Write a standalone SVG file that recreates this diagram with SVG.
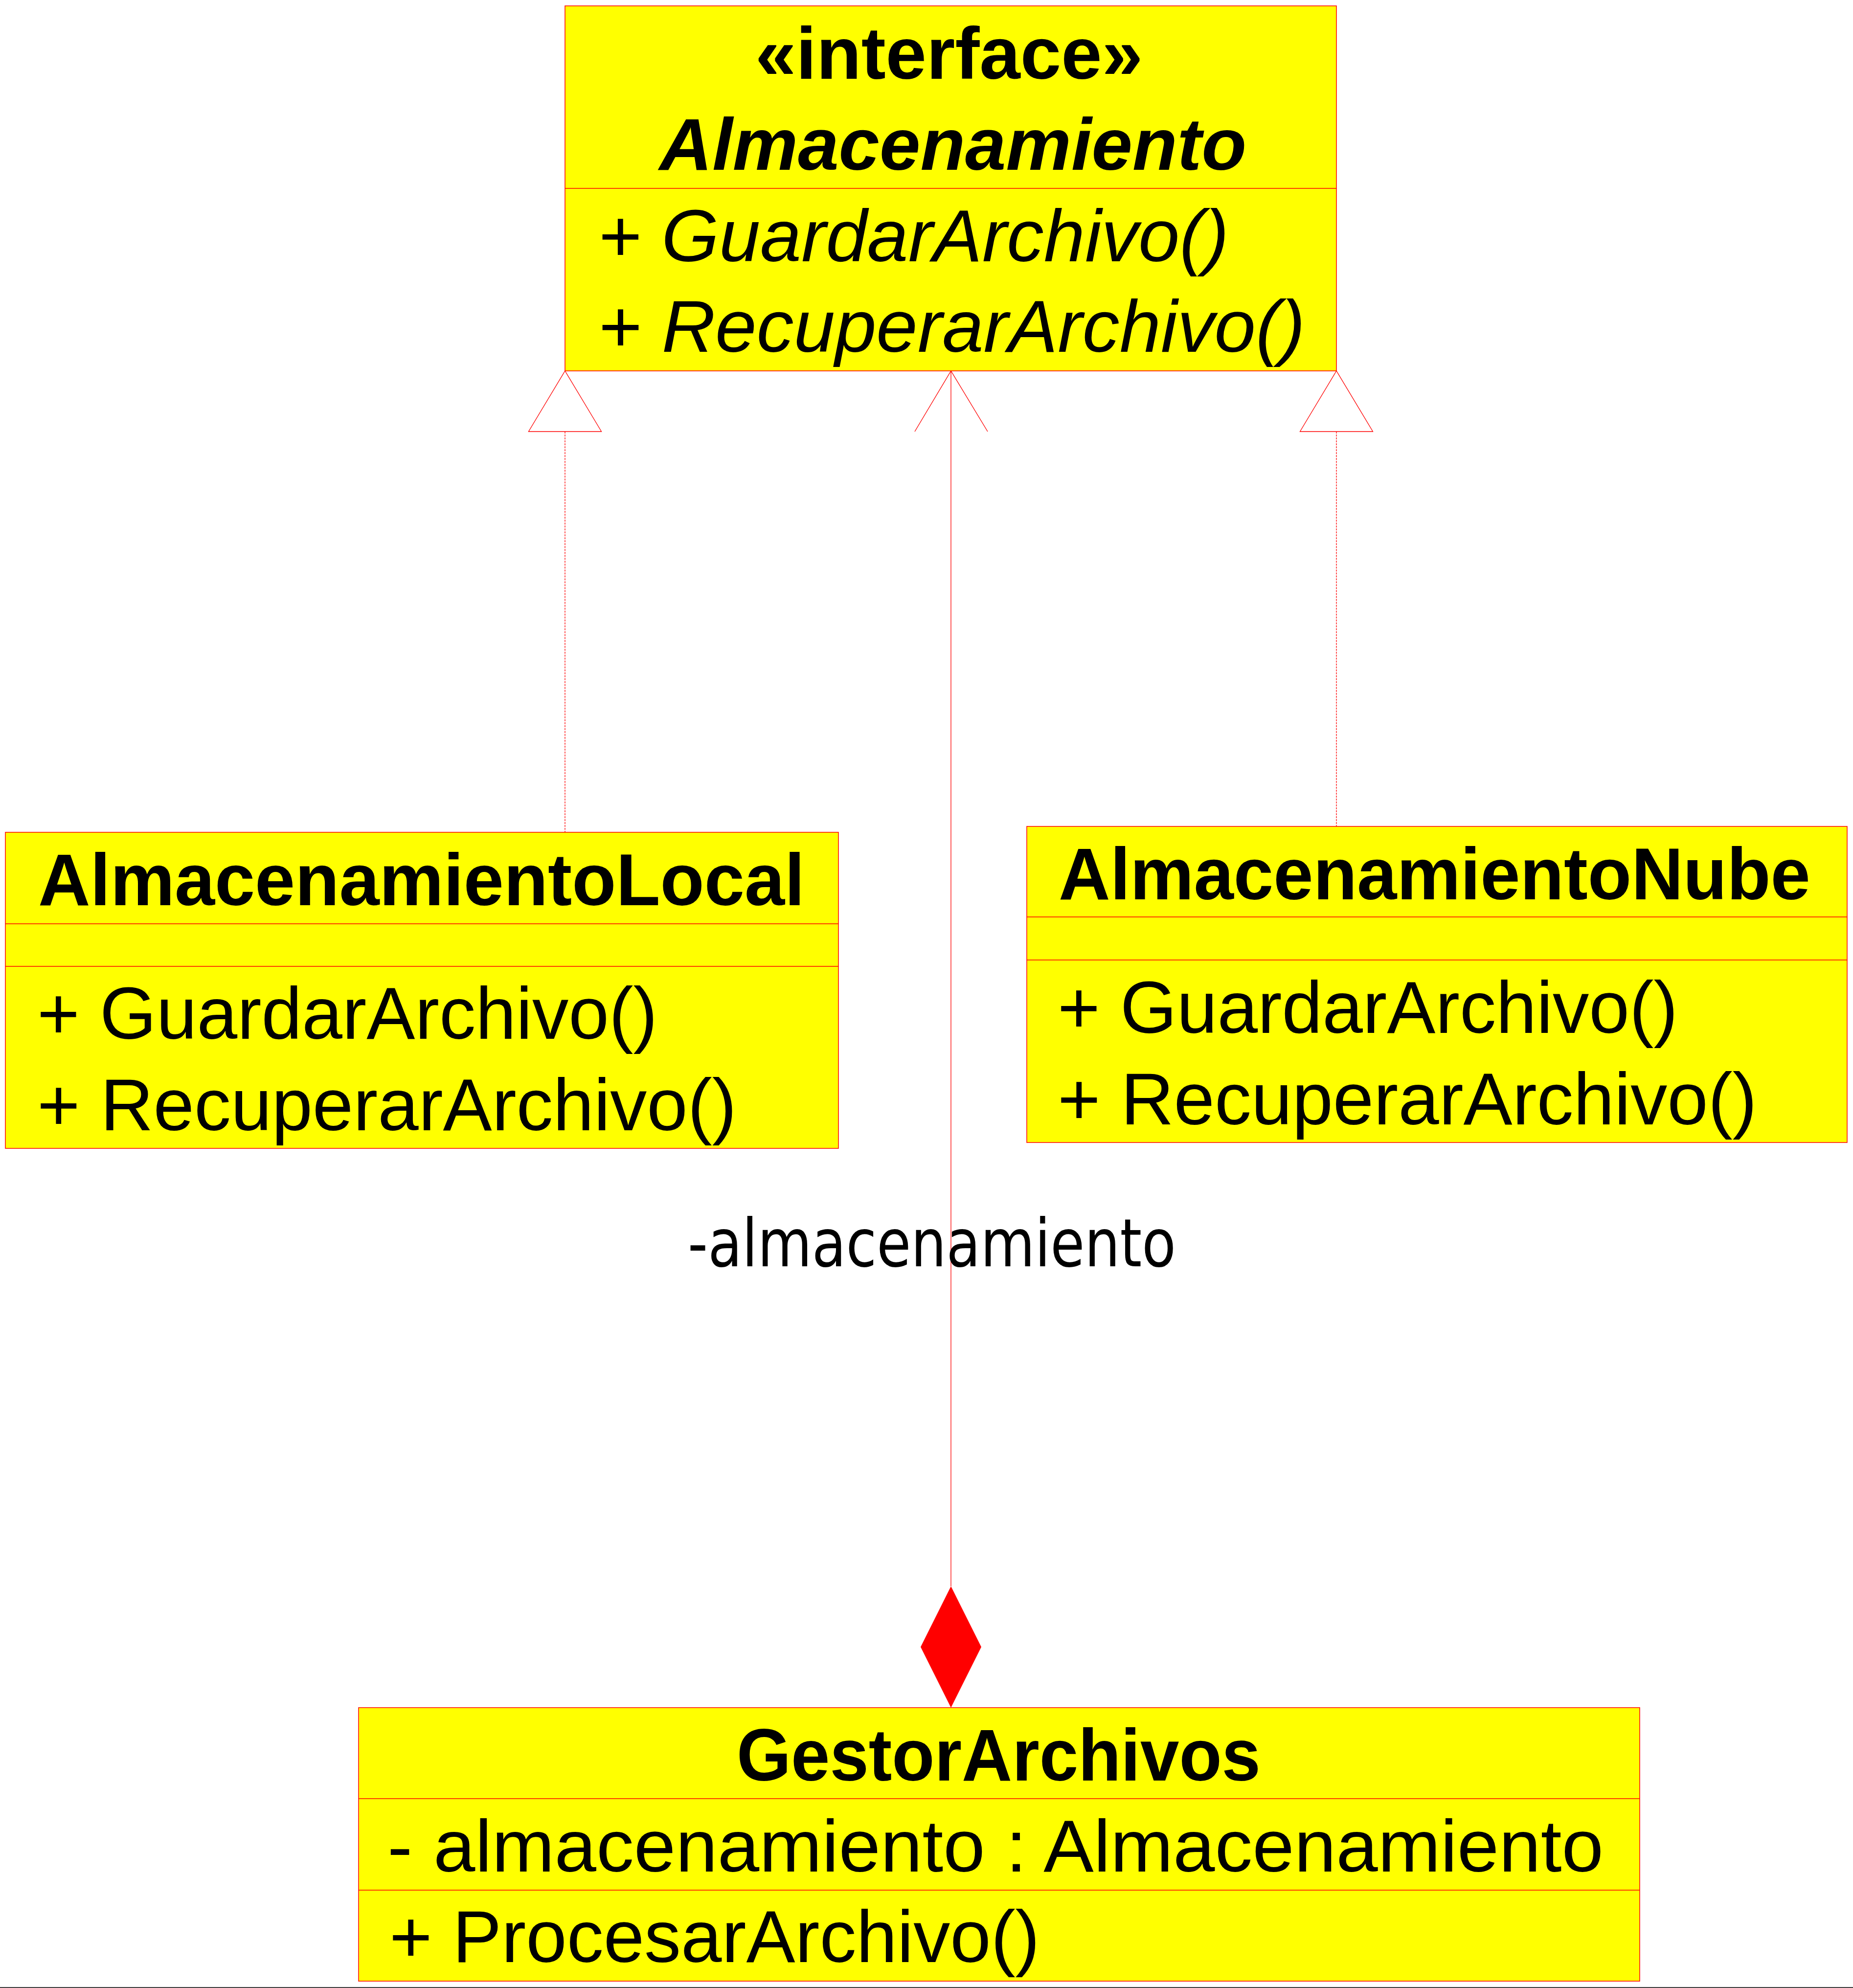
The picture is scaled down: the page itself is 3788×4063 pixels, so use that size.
<svg xmlns="http://www.w3.org/2000/svg" width="3788" height="4063" viewBox="0 0 3788 4063">
<style>
.box{fill:#FFFF00;stroke:#FF0000;stroke-width:1.5}
.div{stroke:#FF0000;stroke-width:1.5;fill:none}
.t{font-family:"Liberation Sans",Arial,sans-serif;font-size:150px;fill:#000}
.b{font-weight:bold}
.i{font-style:italic}
.conn{stroke:#FF0000;stroke-width:1.3;fill:none}
.dash{stroke-dasharray:4,2}
.lbl{font-family:"DejaVu Sans",sans-serif;font-size:136px;fill:#000}
</style>
<rect width="3788" height="4063" fill="#FFFFFF"/>
<g id="connectors">
  <line class="conn dash" x1="1155" y1="882" x2="1155" y2="1701"/>
  <polygon class="conn" points="1155,758 1080.5,882 1229.5,882" fill="#FFFFFF"/>
  <line class="conn dash" x1="2732" y1="882" x2="2732" y2="1689"/>
  <polygon class="conn" points="2732,758 2657.5,882 2806.5,882" fill="#FFFFFF"/>
  <line class="conn" x1="1944" y1="758" x2="1944" y2="3242"/>
  <polyline class="conn" points="1870,882 1944,758 2019,882"/>
  <polygon points="1944,3242 2006,3366 1944,3490 1882,3366" fill="#FF0000"/>
  <text class="lbl" x="1406" y="2588" textLength="998" lengthAdjust="spacingAndGlyphs">-almacenamiento</text>
</g>
<g id="Almacenamiento">
  <rect class="box" x="1155" y="12" width="1577" height="746"/>
  <line class="div" x1="1155" y1="385" x2="2732" y2="385"/>
  <text class="t b" x="1940" y="161" text-anchor="middle">«interface»</text>
  <text class="t b i" x="1948" y="347" text-anchor="middle">Almacenamiento</text>
  <text class="t i" x="1222" y="534" textLength="1290" lengthAdjust="spacingAndGlyphs">+ GuardarArchivo()</text>
  <text class="t i" x="1222" y="719" textLength="1446" lengthAdjust="spacingAndGlyphs">+ RecuperarArchivo()</text>
</g>
<g id="AlmacenamientoLocal">
  <rect class="box" x="11" y="1701" width="1703" height="646"/>
  <line class="div" x1="11" y1="1888" x2="1714" y2="1888"/>
  <line class="div" x1="11" y1="1975" x2="1714" y2="1975"/>
  <text class="t b" x="78" y="1850" textLength="1567" lengthAdjust="spacingAndGlyphs">AlmacenamientoLocal</text>
  <text class="t" x="76" y="2123" textLength="1268" lengthAdjust="spacingAndGlyphs">+ GuardarArchivo()</text>
  <text class="t" x="76" y="2310">+ RecuperarArchivo()</text>
</g>
<g id="AlmacenamientoNube">
  <rect class="box" x="2099" y="1689" width="1677" height="646"/>
  <line class="div" x1="2099" y1="1874" x2="3776" y2="1874"/>
  <line class="div" x1="2099" y1="1962" x2="3776" y2="1962"/>
  <text class="t b" x="2164" y="1838" textLength="1537" lengthAdjust="spacingAndGlyphs">AlmacenamientoNube</text>
  <text class="t" x="2162" y="2111" textLength="1268" lengthAdjust="spacingAndGlyphs">+ GuardarArchivo()</text>
  <text class="t" x="2162" y="2298">+ RecuperarArchivo()</text>
</g>
<g id="GestorArchivos">
  <rect class="box" x="733" y="3490" width="2619" height="559"/>
  <line class="div" x1="733" y1="3676" x2="3352" y2="3676"/>
  <line class="div" x1="733" y1="3863" x2="3352" y2="3863"/>
  <text class="t b" x="1506" y="3639" textLength="1071" lengthAdjust="spacingAndGlyphs">GestorArchivos</text>
  <text class="t" x="792" y="3825" textLength="2486" lengthAdjust="spacingAndGlyphs">- almacenamiento : Almacenamiento</text>
  <text class="t" x="796" y="4010">+ ProcesarArchivo()</text>
</g>
<line x1="0" y1="4062" x2="3788" y2="4062" stroke="#000000" stroke-width="1.5"/>
</svg>
